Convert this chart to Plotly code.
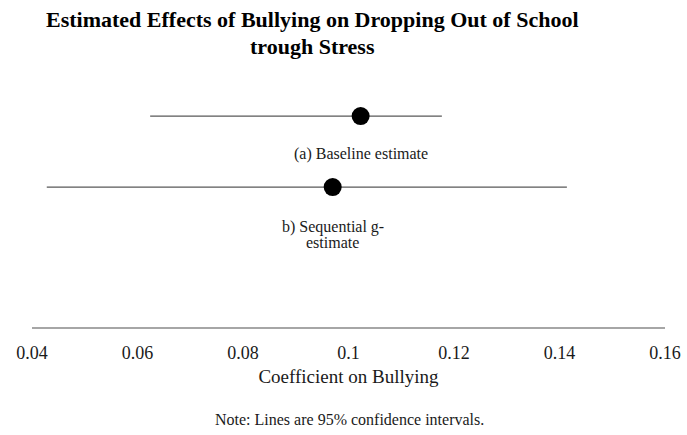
import plotly.graph_objects as go

labels = ["(a) Baseline estimate", "b) Sequential g-<br>estimate"]
estimates = [0.1023, 0.0970]
ci_low = [0.0624, 0.0428]
ci_high = [0.1177, 0.1414]
rows = [2, 1]
x_ticks = [0.04, 0.06, 0.08, 0.10, 0.12, 0.14, 0.16]
x_tick_text = ["0.04", "0.06", "0.08", "0.1", "0.12", "0.14", "0.16"]
title_lines = ["Estimated Effects of Bullying on Dropping Out of School", "trough Stress"]

FONT = "Liberation Serif"
TXT = "#1a1a1a"

W, H = 687, 435
L, R, T, B = 32, 22, 80, 108
PW, PH = W - L - R, H - T - B


def px_to_paper(x, y):
    return (x - L) / PW, (H - B - y) / PH


fig = go.Figure()

for lo, hi, r in zip(ci_low, ci_high, rows):
    fig.add_trace(go.Scatter(
        x=[lo, hi], y=[r, r], mode="lines",
        line=dict(color="#595959", width=1.2),
        showlegend=False, hoverinfo="skip"))

fig.add_trace(go.Scatter(
    x=estimates, y=rows, mode="markers",
    marker=dict(color="black", size=18, line=dict(width=0)),
    showlegend=False))

# data labels below each point, one annotation per text line
for lab, est, r in zip(labels, estimates, rows):
    for i, line in enumerate(lab.split("<br>")):
        fig.add_annotation(
            x=est, y=r, xref="x", yref="y", text=line, showarrow=False,
            yshift=-38 - 15 * i if r == 2 else -40 - 15 * i,
            font=dict(family=FONT, size=16, color=TXT))

# title (two lines)
for i, line in enumerate(title_lines):
    tx, ty = px_to_paper(312, 20 + 26 * i)
    fig.add_annotation(
        x=tx, y=ty, xref="paper", yref="paper",
        text="<b>" + line + "</b>", showarrow=False, yanchor="middle",
        font=dict(family=FONT, size=22, color="black"))

nx, ny = px_to_paper(349, 419)
fig.add_annotation(
    x=nx, y=ny, xref="paper", yref="paper",
    text="Note: Lines are 95% confidence intervals.", showarrow=False,
    yanchor="middle",
    font=dict(family=FONT, size=16, color=TXT))

fig.update_layout(
    width=W, height=H, autosize=False,
    margin=dict(l=L, r=R, t=T, b=B, autoexpand=False),
    paper_bgcolor="white", plot_bgcolor="white",
    xaxis=dict(
        range=[0.04, 0.16], tickvals=x_ticks, ticktext=x_tick_text,
        showgrid=False, zeroline=False, showline=True, automargin=False,
        linecolor="#A6A6A6", linewidth=2, ticks="",
        ticklabelstandoff=8,
        tickfont=dict(family=FONT, size=18, color=TXT),
        title=dict(text="Coefficient on Bullying", standoff=8,
                   font=dict(family=FONT, size=19, color=TXT))),
    yaxis=dict(range=[-0.968, 2.507], visible=False, showgrid=False,
               zeroline=False, automargin=False),
)

fig.write_html("out.html", config={"displayModeBar": False},
               post_script="document.body.style.margin='0';")
